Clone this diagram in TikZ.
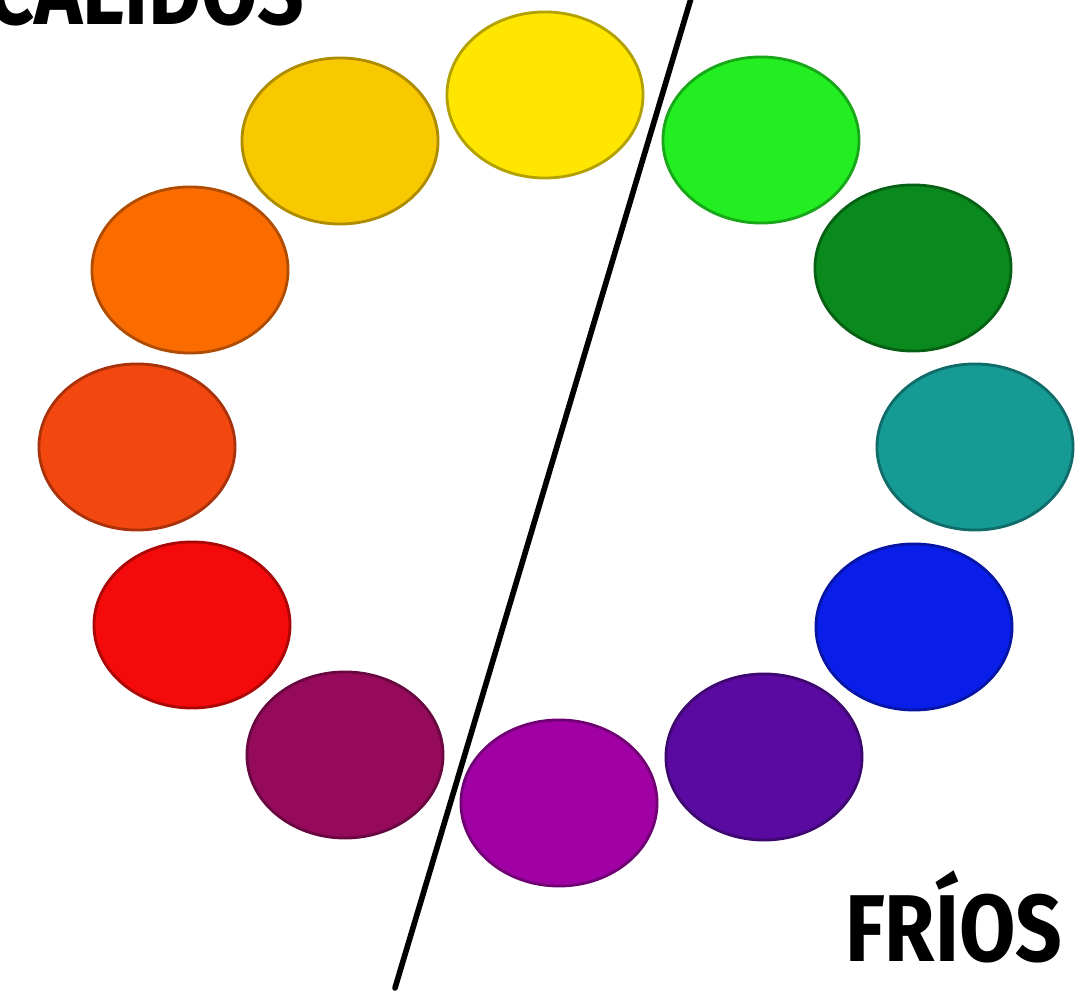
\documentclass[tikz,border=0pt]{standalone}
\usepackage{fontspec}
\setmainfont{Fira Sans}
\usetikzlibrary{shapes.geometric}
\definecolor{cyellow}{HTML}{FFE600}
\definecolor{cgold}{HTML}{F8C800}
\definecolor{corange}{HTML}{FB6C00}
\definecolor{credorange}{HTML}{F2470E}
\definecolor{cred}{HTML}{F40A0A}
\definecolor{credviolet}{HTML}{960A5C}
\definecolor{cviolet}{HTML}{A000A4}
\definecolor{cblueviolet}{HTML}{5A0AA0}
\definecolor{cblue}{HTML}{0A1EEA}
\definecolor{cteal}{HTML}{169A94}
\definecolor{cdkgreen}{HTML}{0A8A1E}
\definecolor{cgreen}{HTML}{22EE22}

\begin{document}
\begin{tikzpicture}[x=0.01cm, y=-0.01cm,
        spot/.style={ellipse, draw=#1!70!black, fill=#1, line width=0.8pt, minimum width=1.96cm, minimum height=1.66cm, inner sep=0pt},
        tag/.style={font=\fontsize{27}{27}\selectfont\bfseries, inner sep=0pt, xscale=0.86, transform shape},
        divider/.style={line width=1.6pt, line cap=round}
    ]
        \clip (0,0) rectangle (1078,992);
        \fill[white] (0,0) rectangle (1078,992);

        \node[spot=cyellow] (yellow) at (545,95) {};
        \node[spot=cgold] (gold) at (340,141) {};
        \node[spot=corange] (orange) at (190,270) {};
        \node[spot=credorange] (redorange) at (137,447) {};
        \node[spot=cred] (red) at (192,625) {};
        \node[spot=credviolet] (redviolet) at (345,755) {};
        \node[spot=cviolet] (violet) at (559,803) {};
        \node[spot=cblueviolet] (blueviolet) at (764,757) {};
        \node[spot=cblue] (blue) at (914,627) {};
        \node[spot=cteal] (teal) at (975,447) {};
        \node[spot=cdkgreen] (dkgreen) at (913,268) {};
        \node[spot=cgreen] (green) at (761,140) {};

        \coordinate (cuttop) at (695,-15);
        \coordinate (cutbottom) at (395,988);
        \draw[divider] (cuttop) -- (cutbottom);

        \node[tag, anchor=base east] (warm) at (305,25) {CÁLIDOS};
        \node[tag, anchor=base east] (cold) at (1063,962) {FRÍOS};
    \end{tikzpicture}
\end{document}
